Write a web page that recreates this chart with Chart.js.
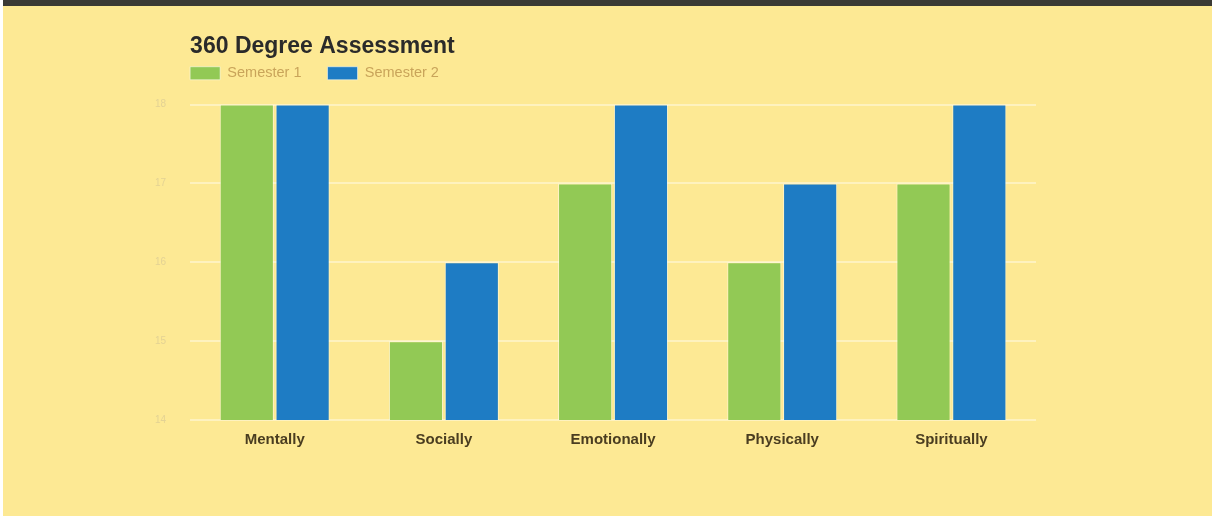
<!DOCTYPE html>
<html>
<head>
<meta charset="utf-8">
<script src="https://cdn.jsdelivr.net/npm/chart.js@4.4.1/dist/chart.umd.min.js"></script>
<style>
  html, body { margin: 0; padding: 0; background: #ffffff; }
  #frame {
    position: absolute; left: 3px; top: 0; width: 1209px; height: 510px;
    border-top: 6px solid #3b3a35; background: #fde994;
  }
  #frame canvas { display: block; }
</style>
</head>
<body>
<div id="frame"><canvas id="chart" width="1209" height="510"></canvas></div>
<script>
const categories = ['Mentally', 'Socially', 'Emotionally', 'Physically', 'Spiritually'];
const semester1 = [18, 15, 17, 16, 17];
const semester2 = [18, 16, 18, 17, 18];
const yTicks = [14, 15, 16, 17, 18];

const FONT = 'Liberation Sans, Arial, sans-serif';
const LEGEND_PAD = 26;

// legend sits flush with the plot's left edge, wide gaps between items
const legendTweak = {
    id: 'legendTweak',
    beforeUpdate(chart) {
        const legend = chart.legend;
        if (!legend || legend._tweaked) return;
        const fit = legend.fit;
        legend.fit = function () {
            fit.call(this);
            this.height = 44;
        };
        legend._tweaked = true;
    },
    afterLayout(chart) {
        chart.legend.left = chart.chartArea.left - LEGEND_PAD;
        chart.legend.top = 34;
    }
};

const ctx = document.getElementById('chart').getContext('2d');
new Chart(ctx, {
    type: 'bar',
    data: {
        labels: categories,
        datasets: [{
            label: 'Semester 1',
            data: semester1,
            backgroundColor: '#92c955',
            borderColor: 'rgba(255,255,255,0.5)',
            borderWidth: 1
        }, {
            label: 'Semester 2',
            data: semester2,
            backgroundColor: '#1e7cc4',
            borderColor: 'rgba(255,255,255,0.5)',
            borderWidth: 1
        }]
    },
    plugins: [legendTweak],
    options: {
        responsive: false,
        animation: false,
        categoryPercentage: 0.66,
        barPercentage: 0.97,
        layout: { padding: { left: 128, right: 176, top: 27, bottom: 64 } },
        plugins: {
            title: {
                display: true,
                text: '360 Degree Assessment',
                align: 'start',
                fullSize: false,
                color: '#2a2a2a',
                font: { family: FONT, size: 23, weight: 'bold' },
                padding: { top: 0, bottom: 0 }
            },
            legend: {
                align: 'start',
                fullSize: false,
                labels: {
                    boxWidth: 30,
                    boxHeight: 13,
                    color: '#c9a45a',
                    font: { family: FONT, size: 14.5 },
                    padding: LEGEND_PAD
                }
            },
            tooltip: { enabled: false }
        },
        scales: {
            x: {
                grid: { display: false },
                border: { display: false },
                ticks: {
                    color: '#4a3d20',
                    font: { family: FONT, size: 15, weight: 'bold' },
                    padding: 3
                }
            },
            y: {
                min: 14,
                max: 18,
                afterBuildTicks: (axis) => { axis.ticks = yTicks.map(v => ({ value: v })); },
                grid: { color: 'rgba(255,255,255,0.4)', lineWidth: 2, drawTicks: false },
                border: { display: false },
                ticks: {
                    color: '#e3d294',
                    font: { family: FONT, size: 10 },
                    padding: 24
                }
            }
        }
    }
});
</script>
</body>
</html>
